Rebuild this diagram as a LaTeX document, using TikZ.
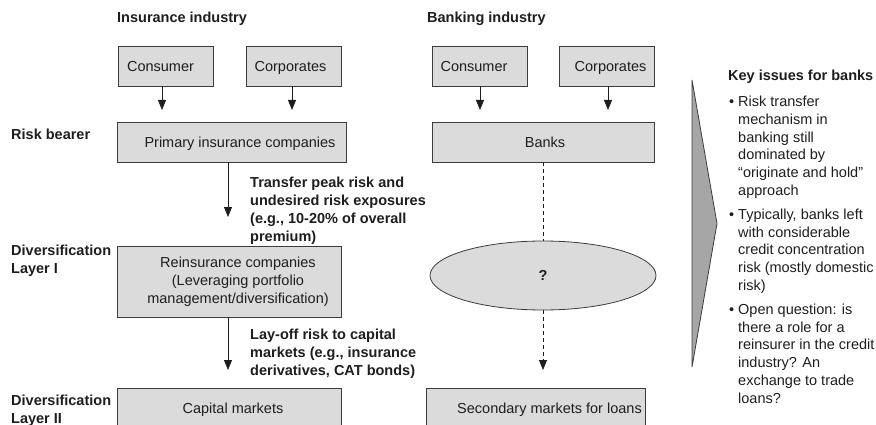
\documentclass[tikz,border=0pt]{standalone}
\usepackage{fontspec}
\setmainfont{Liberation Sans}
\usetikzlibrary{arrows.meta,shapes.geometric}
\definecolor{boxfill}{RGB}{219,219,219}
\definecolor{edge}{RGB}{60,60,60}
\definecolor{chev}{RGB}{166,166,166}
\definecolor{ink}{RGB}{30,30,30}
\begin{document}
\begin{tikzpicture}[x=1pt,y=-1pt,
  every node/.style={font=\fontsize{14.5}{18}\selectfont, text=ink},
  box/.style={draw=edge, line width=0.8pt, fill=boxfill, inner sep=0pt, anchor=center},
  one/.style={text height=10.5pt, text depth=0pt},
  hd/.style={font=\fontsize{14.5}{18}\selectfont\bfseries, anchor=base west, inner sep=0pt, align=left},
  bul/.style={font=\fontsize{14.5}{17.8}\selectfont, anchor=base west, inner sep=0pt, align=left},
  arr/.style={draw=ink, line width=0.8pt, -{Triangle[length=10pt,width=8pt]}},
  dline/.style={draw=ink, line width=0.8pt, dash pattern=on 4pt off 3pt},
]
\useasboundingbox (0,0) rectangle (876,425);

% headings
\node[hd] (hIns) at (117,23) {Insurance industry};
\node[hd] (hBank) at (427,23) {Banking industry};

% insurance column
\node[box,one,minimum width=95pt,minimum height=40pt] (ic) at (165.5,66) {Consumer\hspace*{10pt}};
\node[box,one,minimum width=95pt,minimum height=40pt] (ik) at (293.5,66) {Corporates\hspace*{6pt}};
\node[box,one,minimum width=229pt,minimum height=40pt] (pi) at (231.5,142) {\hspace*{17pt}Primary insurance companies};
\node[box,minimum width=224pt,minimum height=71pt,align=center] (ri) at (229,281.5)
  {\hspace*{18pt}Reinsurance companies\\\hspace*{18pt}(Leveraging portfolio\\\hspace*{18pt}management/diversification)};
\node[box,one,minimum width=224pt,minimum height=40pt] (cm) at (229,408) {\hspace*{8pt}Capital markets};

% banking column
\node[box,one,minimum width=95pt,minimum height=40pt] (bc) at (479.5,66) {Consumer\hspace*{11pt}};
\node[box,one,minimum width=95pt,minimum height=40pt] (bk) at (606.5,66) {\hspace*{8pt}Corporates};
\node[box,one,minimum width=222pt,minimum height=40pt] (bb) at (543,142) {\hspace*{4pt}Banks};
\node[draw=edge, line width=0.8pt, fill=boxfill, ellipse, minimum width=226pt, minimum height=69pt,
  inner sep=0pt, font=\fontsize{14.5}{18}\selectfont\bfseries] (q) at (543,275.5) {?};
\node[box,one,minimum width=219pt,minimum height=40pt] (sm) at (535.5,408) {\hspace*{28pt}Secondary markets for loans};

% arrows
\coordinate (icE) at (162,110);
\coordinate (ikE) at (292,110);
\coordinate (piE) at (228,217);
\coordinate (riE) at (228,370);
\coordinate (bcE) at (480,110);
\coordinate (bkE) at (608,110);
\coordinate (qE) at (543,370);
\draw[arr] (ic.south -| icE) -- (icE);
\draw[arr] (ik.south -| ikE) -- (ikE);
\draw[arr] (pi.south -| piE) -- (piE);
\draw[arr] (ri.south -| riE) -- (riE);
\draw[arr] (bc.south -| bcE) -- (bcE);
\draw[arr] (bk.south -| bkE) -- (bkE);
\draw[dline] (bb.south) -- (q.north);
\draw[dline,-{Triangle[length=10pt,width=8pt]}] (q.south) -- (qE);

% left labels (base anchor = baseline of last line)
\node[hd] (lRisk) at (11,140) {Risk bearer};
\node[hd] (lD1) at (11,273) {Diversification\\Layer I};
\node[hd] (lD2) at (11,423) {Diversification\\Layer II};
\node[hd] (lT) at (250,241) {Transfer peak risk and\\undesired risk exposures\\(e.g., 10-20\% of overall\\premium)};
\node[hd] (lL) at (250,375) {Lay-off risk to capital\\markets (e.g., insurance\\derivatives, CAT bonds)};

% chevron
\draw[draw=edge, line width=0.8pt, fill=chev] (692,80) -- (717,223.5) -- (692,367) -- cycle;

% key issues
\node[hd] (kI) at (728,81) {Key issues for banks};
\node[bul] (d1) at (729,106.5) {•};
\node[bul] (t1) at (738,195.5) {Risk transfer\\mechanism in\\banking still\\dominated by\\“originate and hold”\\approach};
\node[bul] (d2) at (729,219.3) {•};
\node[bul] (t2) at (738,290.5) {Typically, banks left\\with considerable\\credit concentration\\risk (mostly domestic\\risk)};
\node[bul] (d3) at (729,314.3) {•};
\node[bul] (t3) at (738,403.3) {Open question: is\\there a role for a\\reinsurer in the credit\\industry? An\\exchange to trade\\loans?};
\end{tikzpicture}
\end{document}
